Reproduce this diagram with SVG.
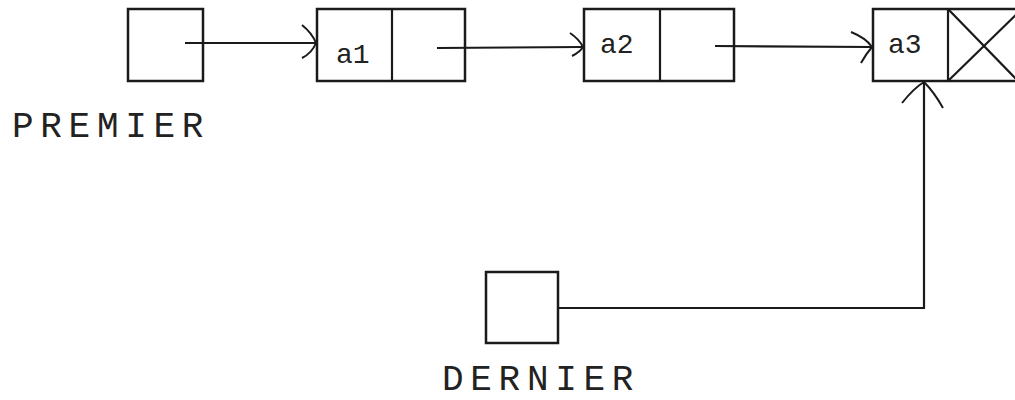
<svg xmlns="http://www.w3.org/2000/svg" width="1015" height="400" viewBox="0 0 1015 400">
<style>
.box{fill:#fff;stroke:#1a1a1a;stroke-width:2.5}
.ln{fill:none;stroke:#1a1a1a;stroke-width:2.2}
.head{fill:none;stroke:#1a1a1a;stroke-width:2}
.cell{font-family:"Liberation Mono",monospace;font-size:28px;fill:#222}
.lbl{font-family:"Liberation Mono","Courier New",monospace;font-size:36px;fill:#222;letter-spacing:6.7px}
</style>
<rect width="1015" height="400" fill="#fff"/>
<g id="premier">
<rect class="box" x="128" y="9" width="75" height="72"/>
<text class="lbl" x="12" y="137">PREMIER</text>
</g>
<g id="a1">
<rect class="box" x="317" y="9" width="148" height="72"/>
<line class="ln" x1="392" y1="9" x2="392" y2="81"/>
<text class="cell" x="336" y="63">a1</text>
</g>
<g id="a2">
<rect class="box" x="584" y="9" width="150" height="72"/>
<line class="ln" x1="660" y1="9" x2="660" y2="81"/>
<text class="cell" x="600" y="53">a2</text>
</g>
<g id="a3">
<rect class="box" x="873" y="9" width="150" height="72"/>
<line class="ln" x1="948" y1="9" x2="948" y2="81"/>
<line class="ln" x1="948" y1="9" x2="1022" y2="85" stroke-width="1.8"/>
<line class="ln" x1="948" y1="81" x2="1022" y2="9" stroke-width="1.8"/>
<text class="cell" x="888" y="53">a3</text>
</g>
<g id="dernier">
<rect class="box" x="486" y="272" width="72" height="71"/>
<text class="lbl" x="442" y="390">DERNIER</text>
</g>
<g id="connectors">
<line class="ln" x1="185" y1="43" x2="316" y2="43"/>
<path class="head" d="M302,25 Q312,33 316,43 Q312,53 302,58"/>
<line class="ln" x1="437" y1="48" x2="583" y2="47"/>
<path class="head" d="M570,33 Q579,39 583,47 Q580,52 572,56"/>
<line class="ln" x1="715" y1="46" x2="872" y2="47"/>
<path class="head" d="M851,32 Q866,38 872,47 Q866,54 861,63"/>
<polyline class="ln" points="558,308 924,308 924,82"/>
<path class="head" d="M902,103 Q914,88 924,82 Q934,92 943,108"/>
</g>
</svg>
